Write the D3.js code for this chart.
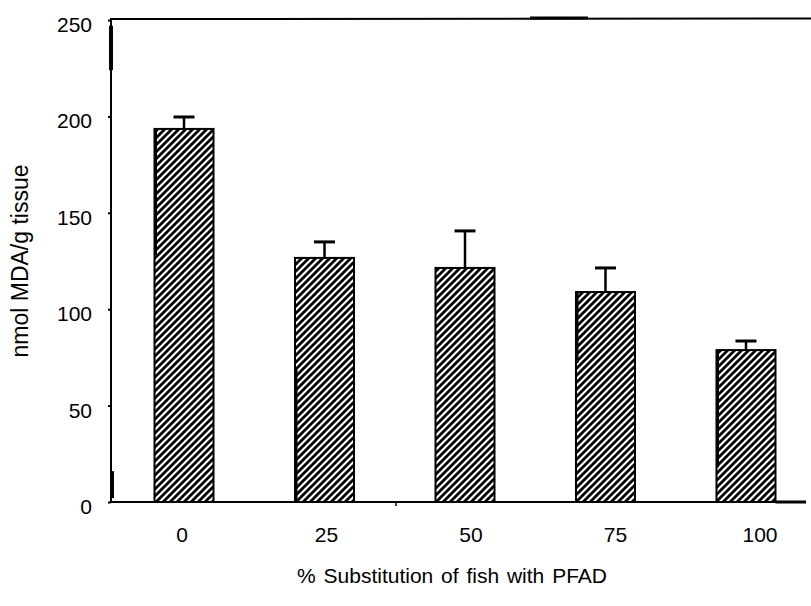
<!DOCTYPE html>
<html><head><meta charset="utf-8">
<script src="https://cdn.jsdelivr.net/npm/d3@7/dist/d3.min.js"></script>
<style>body{margin:0;background:#fff}text{font-family:"Liberation Sans",Arial,sans-serif;fill:#000}</style>
</head><body><svg id="c" width="811" height="606"></svg>
<script>
const categories = ["0","25","50","75","100"];
const means = [193.5, 126.6, 121.4, 108.9, 78.8];
const errTops = [199.7, 134.9, 140.6, 121.4, 83.5];
const yTicks = [0,50,100,150,200,250];
const xTitle = "% Substitution of fish with PFAD";
const yTitle = "nmol MDA/g tissue";

const svg = d3.select("#c");
const y = d3.scaleLinear().domain([0,250]).range([502,20]);
const x = d3.scaleBand().domain(categories).range([154.5,775.5]).paddingInner(0.58).paddingOuter(0);
const xl = d3.scalePoint().domain(categories).range([182,760]);

const defs = svg.append("defs");
const p = defs.append("pattern").attr("id","hatch").attr("patternUnits","userSpaceOnUse").attr("width",7).attr("height",7);
p.append("rect").attr("width",7).attr("height",7).attr("fill","#fff");
p.append("path").attr("d","M0,7L7,0M-1,1L1,-1M6,8L8,6").attr("stroke","#000").attr("stroke-width",2.8);

// bars
svg.selectAll("rect.bar").data(categories).join("rect").attr("class","bar")
  .attr("x",d=>x(d)).attr("width",x.bandwidth())
  .attr("y",(d,i)=>y(means[i])).attr("height",(d,i)=>y(0)-y(means[i]))
  .attr("fill","url(#hatch)").attr("stroke","#000").attr("stroke-width",2);

// error bars
const eb = svg.append("g").attr("stroke","#000");
categories.forEach((d,i)=>{
  const cx = x(d)+x.bandwidth()/2;
  eb.append("line").attr("x1",cx).attr("x2",cx).attr("y1",y(means[i])).attr("y2",y(errTops[i])).attr("stroke-width",2.5);
  eb.append("line").attr("x1",cx-10.5).attr("x2",cx+10.5).attr("y1",y(errTops[i])).attr("y2",y(errTops[i])).attr("stroke-width",3);
});

// y axis
const ya = svg.append("g").attr("transform","translate(111,0)")
  .call(d3.axisLeft(y).tickValues(yTicks).tickSize(3).tickPadding(16));
ya.select(".domain").attr("stroke","#000").attr("stroke-width",2).attr("d",`M0,${y(250)}V${y(0)}`);
ya.selectAll(".tick line").attr("stroke","#000").attr("stroke-width",2);
ya.selectAll(".tick text").attr("font-size",21).attr("dy","0.55em").style("font-family","Liberation Sans, Arial, sans-serif");
// thick segments on y axis
ya.append("line").attr("x1",0).attr("x2",0).attr("y1",y(247)).attr("y2",y(224)).attr("stroke","#000").attr("stroke-width",4);
ya.append("line").attr("x1",1).attr("x2",1).attr("y1",y(16)).attr("y2",y(2)).attr("stroke","#000").attr("stroke-width",4);

// x axis baseline
svg.append("line").attr("x1",111).attr("x2",806).attr("y1",y(0)).attr("y2",y(0)).attr("stroke","#000").attr("stroke-width",2);
svg.append("line").attr("x1",x("100")+x.bandwidth()).attr("x2",806).attr("y1",y(0)).attr("y2",y(0)).attr("stroke","#000").attr("stroke-width",3);
svg.append("line").attr("x1",396).attr("x2",396).attr("y1",y(0)).attr("y2",y(0)+4).attr("stroke","#000").attr("stroke-width",1.5);
// top frame line
svg.append("line").attr("x1",110).attr("x2",811).attr("y1",y(250)-1).attr("y2",y(250)-1.5).attr("stroke","#000").attr("stroke-width",2);
svg.append("line").attr("x1",530).attr("x2",588).attr("y1",y(250)-2).attr("y2",y(250)-2).attr("stroke","#000").attr("stroke-width",3);

// thicker left edges on some bars (scan artefacts)
const edgeSegs = [["0",193.5,128],["25",70,0],["75",108.9,72],["100",78.8,18]];
edgeSegs.forEach(([c,a,b])=>{
  svg.append("line").attr("x1",x(c)+1).attr("x2",x(c)+1).attr("y1",y(a)).attr("y2",y(b)).attr("stroke","#000").attr("stroke-width",3);
});

// x tick labels
svg.append("g").selectAll("text").data(categories).join("text")
  .attr("x",d=>xl(d)).attr("y",542).attr("text-anchor","middle").attr("font-size",21).text(d=>d);

// titles
svg.append("text").attr("x",452).attr("y",583).attr("text-anchor","middle").attr("font-size",21)
  .attr("word-spacing",2).text(xTitle);
svg.append("text").attr("transform","translate(28,261) rotate(-90)").attr("text-anchor","middle")
  .attr("font-size",23).text(yTitle);
</script></body></html>
